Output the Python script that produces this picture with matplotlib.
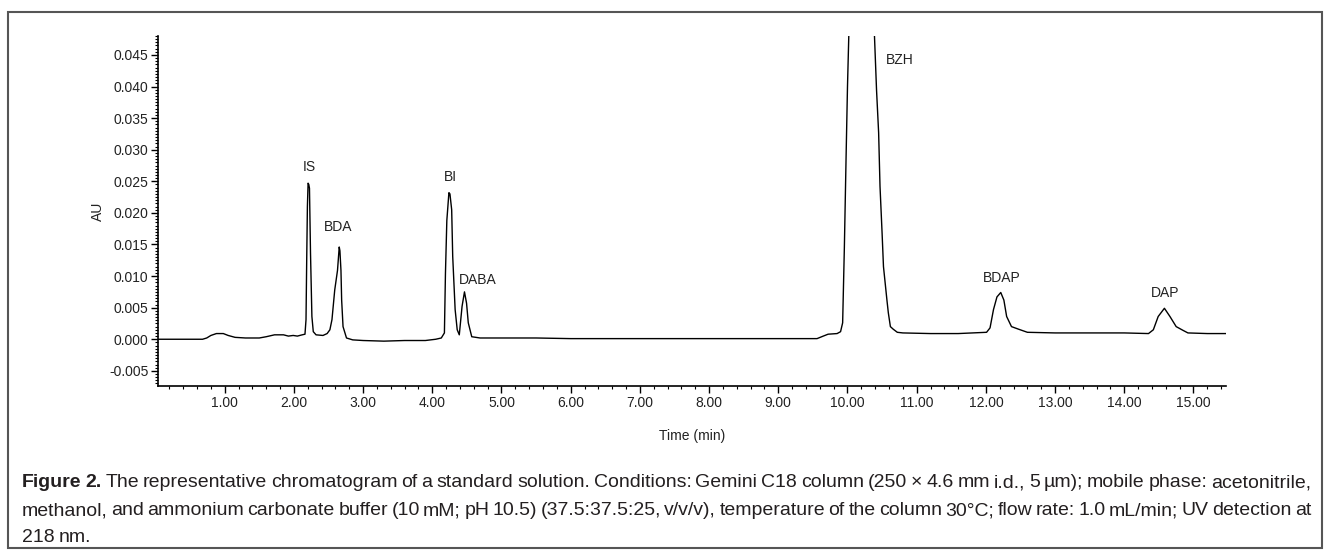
import matplotlib
matplotlib.use('Agg')
import matplotlib.pyplot as plt
from matplotlib.ticker import MultipleLocator, FormatStrFormatter
from matplotlib.patches import Rectangle

# chromatogram trace: retention time (min) and absorbance (AU)
time_min = [
    0.04, 0.68, 0.74, 0.80, 0.88, 0.98, 1.05, 1.15, 1.30, 1.50, 1.60, 1.72, 1.85, 1.92, 1.99, 2.05, 2.12, 2.16,
    2.175, 2.185, 2.195, 2.205, 2.215, 2.225, 2.24, 2.26, 2.28, 2.32, 2.42, 2.48, 2.52,
    2.55, 2.59, 2.63, 2.655, 2.665, 2.68, 2.69, 2.71, 2.76, 2.85, 3.00, 3.30, 3.60, 3.90, 4.05, 4.13,
    4.175, 4.19, 4.21, 4.24, 4.255, 4.28, 4.295, 4.33, 4.36, 4.39,
    4.43, 4.465, 4.495, 4.52, 4.57, 4.69, 5.00, 5.50, 6.00, 7.00, 8.00, 9.00, 9.56, 9.65, 9.72, 9.85, 9.90,
    9.93, 9.955, 9.98, 10.00, 10.02, 10.03, 10.20, 10.38, 10.39, 10.42, 10.45, 10.47, 10.50, 10.52, 10.57,
    10.59, 10.62, 10.66, 10.72, 10.80, 11.20, 11.60, 12.01,
    12.06, 12.11, 12.16, 12.215, 12.26, 12.30, 12.37, 12.47, 12.60, 13.00, 13.50, 14.00, 14.35, 14.42,
    14.49, 14.58, 14.66, 14.75, 14.85, 14.92, 15.20, 15.47,
]
absorbance = [
    0.0000, 0.0000, 0.0002, 0.0006, 0.0009, 0.0009, 0.0006, 0.0003, 0.0002, 0.0002, 0.0004, 0.0007, 0.0007, 0.0005, 0.0006, 0.0005, 0.0007, 0.0008,
    0.0031, 0.0126, 0.0210, 0.0247, 0.0245, 0.0239, 0.0136, 0.0036, 0.0012, 0.0007, 0.0006, 0.0009, 0.0015,
    0.0031, 0.0078, 0.0109, 0.0146, 0.0140, 0.0109, 0.0062, 0.0020, 0.0002, -0.0001, -0.0002, -0.0003, -0.0002, -0.0002, 0.0000, 0.0002,
    0.0010, 0.0104, 0.0188, 0.0232, 0.0230, 0.0205, 0.0131, 0.0047, 0.0015, 0.0007,
    0.0052, 0.0075, 0.0057, 0.0026, 0.0004, 0.0002, 0.0002, 0.0002, 0.0001, 0.0001, 0.0001, 0.0001, 0.0001, 0.0005, 0.0008, 0.0009, 0.0012,
    0.0026, 0.0146, 0.0290, 0.0400, 0.0485, 0.0700, 0.2500, 0.0700, 0.0480, 0.0394, 0.0327, 0.0242, 0.0168, 0.0115, 0.0062,
    0.0042, 0.0020, 0.0016, 0.0011, 0.0010, 0.0009, 0.0009, 0.0011,
    0.0018, 0.0047, 0.0067, 0.0074, 0.0062, 0.0036, 0.0020, 0.0016, 0.0011, 0.0010, 0.0010, 0.0010, 0.0009, 0.0015,
    0.0036, 0.0049, 0.0036, 0.0020, 0.0014, 0.0010, 0.0009, 0.0009,
]

# peak names and where their labels sit
peak_names = ['IS', 'BDA', 'BI', 'DABA', 'BZH', 'BDAP', 'DAP']
label_time = [2.22, 2.64, 4.26, 4.66, 10.75, 12.23, 14.59]
label_au = [0.0273, 0.0178, 0.0257, 0.0094, 0.0442, 0.0097, 0.0073]

caption_lines = [
    "Figure 2. The representative chromatogram of a standard solution. Conditions: Gemini C18 column "
    "(250 × 4.6 mm i.d., 5 µm); mobile phase: acetonitrile,",
    "methanol, and ammonium carbonate buffer (10 mM; pH 10.5) (37.5:37.5:25, v/v/v), temperature of the "
    "column 30°C; flow rate: 1.0 mL/min; UV detection at",
    "218 nm.",
]

plt.rcParams['font.family'] = ['Liberation Sans', 'DejaVu Sans']
plt.rcParams['axes.unicode_minus'] = False

W, H = 1330, 559
fig = plt.figure(figsize=(W / 100, H / 100), dpi=100)
ax = fig.add_axes([158 / W, 1 - 386 / H, (1226 - 158) / W, (386 - 36) / H])

ax.plot(time_min, absorbance, color='black', lw=1.0)

for name, t, a in zip(peak_names, label_time, label_au):
    ax.text(t, a, name, ha='center', va='center', fontsize=10, color='#222222')

ax.set_xlim(0.036, 15.47)
ax.set_ylim(-0.0074, 0.0480)

ax.spines['top'].set_visible(False)
ax.spines['right'].set_visible(False)
ax.spines['left'].set_linewidth(1.2)
ax.spines['bottom'].set_linewidth(1.2)

ax.xaxis.set_major_locator(MultipleLocator(1.0))
ax.xaxis.set_minor_locator(MultipleLocator(0.2))
ax.xaxis.set_major_formatter(FormatStrFormatter('%.2f'))
ax.yaxis.set_major_locator(MultipleLocator(0.005))
ax.yaxis.set_minor_locator(MultipleLocator(0.0005))
ax.yaxis.set_major_formatter(FormatStrFormatter('%.3f'))
ax.tick_params(which='major', direction='out', length=5, width=1, labelsize=10, labelcolor='#222222', pad=2)
ax.tick_params(which='minor', direction='out', length=2.5, width=0.8)

ax.set_xlabel('Time (min)', fontsize=10, color='#222222', labelpad=14)
ax.set_ylabel('AU', fontsize=10, color='#222222', labelpad=3)

# frame round the whole figure
fig.patches.append(Rectangle((8 / W, 1 - 548 / H), 1314 / W, 536 / H, transform=fig.transFigure,
                             fill=False, edgecolor='#555555', lw=1.5))

# caption, first two lines justified word by word
cap_size = 14
x_left, x_right = 22, 1311
baseline_y = [487, 515, 542]

renderer = fig.canvas.get_renderer()
for i, line in enumerate(caption_lines):
    words = line.split(' ')
    arts = []
    for j, w in enumerate(words):
        bold = i == 0 and j < 2
        arts.append(fig.text(0, 1 - baseline_y[i] / H, w, fontsize=cap_size,
                             fontweight='bold' if bold else 'normal', color='#231f20', va='baseline'))
    widths = [a.get_window_extent(renderer).width for a in arts]
    if i < 2:
        gap = (x_right - x_left - sum(widths)) / (len(words) - 1)
    else:
        gap = 4.5
    x = x_left
    for a, wd in zip(arts, widths):
        a.set_x(x / W)
        x += wd + gap

fig.savefig('out.png', dpi=100)
